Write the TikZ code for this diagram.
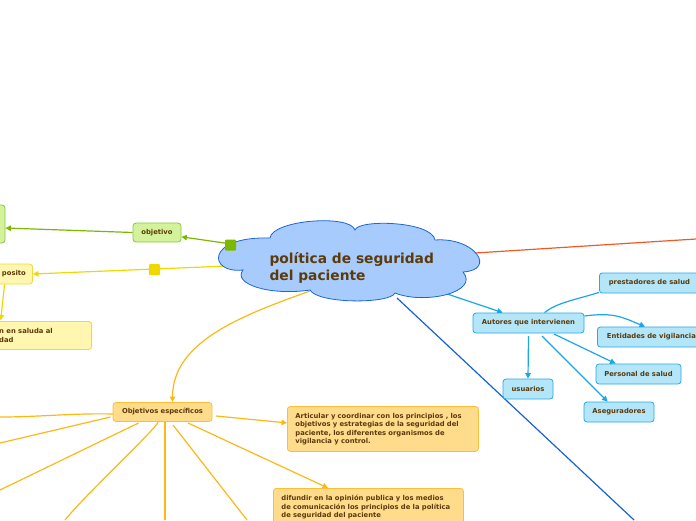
\documentclass[tikz,border=0pt]{standalone}
\usepackage{fontspec}
\setmainfont{DejaVu Sans}
\usetikzlibrary{arrows.meta,calc}
\pgfdeclarelayer{bg}
\pgfsetlayers{bg,main}
\definecolor{txt}{HTML}{5C3A0A}
\definecolor{grn}{HTML}{7CB800}
\definecolor{grnfill}{HTML}{D4F29C}
\definecolor{grnbd}{HTML}{8CC63F}
\definecolor{yel}{HTML}{EED800}
\definecolor{yelfill}{HTML}{FFF6B0}
\definecolor{yelbd}{HTML}{F0D840}
\definecolor{org}{HTML}{FDB813}
\definecolor{orgfill}{HTML}{FEDC8C}
\definecolor{orgbd}{HTML}{F8BE3C}
\definecolor{lb}{HTML}{1AA6EA}
\definecolor{lbfill}{HTML}{B3E6F8}
\definecolor{lbbd}{HTML}{2AA8E6}
\definecolor{cloudfill}{HTML}{A8CBFD}
\definecolor{cloudbd}{HTML}{1A66D6}
\definecolor{redl}{HTML}{F05A28}
\definecolor{dbl}{HTML}{1462D8}
\tikzset{
  box/.style={rounded corners=3pt, draw, line width=0.8pt, inner sep=0pt, align=center},
  gbox/.style={box, fill=grnfill, draw=grnbd},
  ybox/.style={box, fill=yelfill, draw=yelbd},
  obox/.style={box, fill=orgfill, draw=orgbd},
  bbox/.style={box, fill=lbfill, draw=lbbd},
  tip/.style={-{Triangle[length=5.5pt,width=5.5pt]}},
  gline/.style={draw=grn, line width=1.2pt},
  yline/.style={draw=yel, line width=1.2pt},
  oline/.style={draw=org, line width=1.2pt},
  bline/.style={draw=lb, line width=1.2pt},
  marker/.style={minimum size=11pt, inner sep=0pt, rounded corners=1pt},
  cloudstyle/.style={draw=cloudbd, fill=cloudfill, line width=0.8pt},
}
\begin{document}
\begin{tikzpicture}[x=1pt,y=-1pt,font=\fontsize{6.8}{8.5}\selectfont\bfseries,text=txt]
\useasboundingbox (0,0) rectangle (696,520);
\clip (0,0) rectangle (696,520);
% centre cloud
\coordinate (c) at (349,261);
\coordinate (corg) at (310,291);
\coordinate (cdb) at (397,298);
\path[cloudstyle] (243,270)
  .. controls (208,274) and (205,236) .. (270,238)
  .. controls (272,220) and (350,214) .. (355,230)
  .. controls (358,219) and (432,221) .. (435,240)
  .. controls (475,237) and (497,270) .. (463,272)
  .. controls (480,292) and (425,305) .. (395,293)
  .. controls (390,304) and (318,304) .. (310,290)
  .. controls (270,296) and (232,284) .. (243,270) -- cycle;
\node[anchor=west, align=left, font=\fontsize{13.8}{17}\selectfont\bfseries] (ctitle) at (266,268) {política de seguridad\\del paciente};
% green
\node[gbox, minimum width=40pt, minimum height=38pt] (gleft) at (-15,224) {};
\node[gbox, minimum width=48pt, minimum height=19pt] (obj) at (157,232.5) {objetivo};
\node[marker, fill=grn] (gm) at (230.5,245) {};
% yellow
\node[ybox, minimum width=60pt, minimum height=20pt, anchor=east] (prop) at (33,274) {};
\node[anchor=east, inner sep=0pt] (proptxt) at (26,274) {posito};
\node[marker, fill=yel] (ym) at (154.5,269.5) {};
\node[ybox, minimum width=130pt, minimum height=28pt, anchor=north east] (ybot) at (92,321) {};
\node[anchor=west, align=left, inner sep=0pt] (ybottxt) at (-1,335.5) {n en saluda al\\dad};
% blue
\node[bbox, minimum width=111pt, minimum height=20pt] (aut) at (528.5,323) {Autores que intervienen};
\node[bbox, minimum width=100pt, minimum height=20pt, anchor=west] (pres) at (599,283) {prestadores de salud};
\node[bbox, minimum width=108pt, minimum height=20pt, anchor=west] (ent) at (597,337) {Entidades de vigilancia};
\node[bbox, minimum width=85pt, minimum height=20pt] (pers) at (638.5,374) {Personal de salud};
\node[bbox, minimum width=50pt, minimum height=20pt] (usu) at (528,389) {usuarios};
\node[bbox, minimum width=70pt, minimum height=20pt] (ase) at (619,412) {Aseguradores};
% orange
\node[obox, minimum width=99pt, minimum height=19pt] (oe) at (162.5,412) {Objetivos específicos};
\node[obox, anchor=north west, minimum width=191pt, minimum height=45pt, text width=175pt, align=left] (art) at (287,406) {Articular y coordinar con los principios , los\\objetivos y estrategias de la seguridad del\\paciente, los diferentes organismos de\\vigilancia y control.};
\node[obox, anchor=north west, minimum width=190pt, minimum height=38pt, text width=174pt, align=left] (dif) at (273,488) {difundir en la opinión publica y los medios\\de comunicación los principios de la política\\de seguridad del paciente};
% free ends
\coordinate (redend) at (696,239);
\coordinate (dbend) at (634,520);
\coordinate (e1) at (0,417);
\coordinate (e2) at (0,443);
\coordinate (e3) at (0,490);
\coordinate (e4) at (65,520);
\coordinate (e5) at (165,520);
\coordinate (e6) at (247,520);
\begin{pgfonlayer}{bg}
\draw[gline, tip] (c) -- (obj.-10);
\draw[gline, tip] (obj.west) -- ($(gleft.east)+(0,4)$);
\draw[yline, tip] (c) -- (prop.east);
\draw[yline, tip] ($(prop.south)+(2,0)$) -- ($(prop.south)+(-2,36)$);
\draw[draw=redl, line width=1.2pt] (c) -- (redend);
\draw[draw=dbl, line width=1.2pt] (cdb) -- (dbend);
\draw[bline, tip] (c) -- ($(aut.north west)+(30,0)$);
\draw[bline] ($(aut.north west)+(72,0)$) .. controls +(12,-10) and +(-22,7) .. ($(pres.south west)+(0,-1)$);
\draw[bline, tip] ($(aut.east)+(0,-7)$) .. controls +(30,-4) and +(-22,-9) .. ($(ent.north west)+(48,0)$);
\draw[bline, tip] ($(aut.center)+(0,13)$) -- (usu.north);
\draw[bline, tip] ($(aut.center)+(25.5,11)$) -- ($(pers.north west)+(20,0)$);
\draw[bline, tip] ($(aut.center)+(13.5,13)$) -- ($(ase.north west)+(24,0)$);
\draw[oline, tip] (corg) .. controls +(-70,25) and +(0,-60) .. ($(oe.north)+(10,0)$);
\draw[oline] ($(oe.center)+(-49.5,2)$) .. controls +(-40,-1) and +(40,0) .. (e1);
\draw[oline] ($(oe.center)+(-52,5)$) -- (e2);
\draw[oline] ($(oe.center)+(-24,11)$) -- (e3);
\draw[oline] ($(oe.center)+(-4.5,10)$) .. controls +(0,5) and +(20,-25) .. (e4);
\draw[oline] ($(oe.center)+(2.5,10)$) -- (e5);
\draw[oline] ($(oe.center)+(10.5,13)$) -- (e6);
\draw[oline, tip] ($(oe.center)+(25.5,11)$) -- ($(dif.north west)+(55,0)$);
\draw[oline, tip] ($(oe.center)+(53.5,4)$) -- ($(art.west)+(0,-6)$);
\end{pgfonlayer}
\end{tikzpicture}
\end{document}
